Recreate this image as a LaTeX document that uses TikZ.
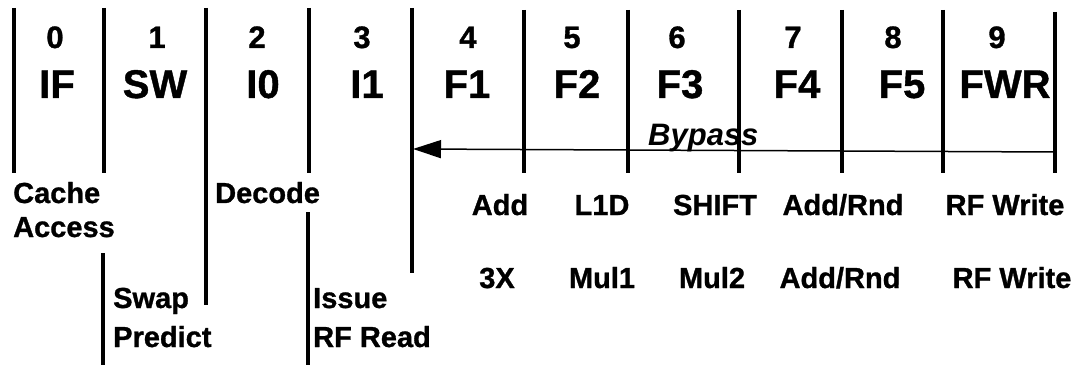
\documentclass[tikz,border=0pt]{standalone}
\usepackage{fontspec}
\setmainfont{Liberation Sans}
\newfontfamily\heavyfont[FakeBold=1]{Liberation Sans Bold}
\usetikzlibrary{arrows.meta}
\begin{document}
\begin{tikzpicture}[x=1pt,y=-1pt,
  divider/.style={line width=3.2pt},
  stagenum/.style={font=\heavyfont\fontsize{31}{33}\selectfont,anchor=base,inner sep=0pt},
  stagename/.style={font=\heavyfont\fontsize{40}{42}\selectfont,anchor=base,inner sep=0pt},
  note/.style={font=\heavyfont\fontsize{29}{31}\selectfont,anchor=base west,inner sep=0pt},
  opname/.style={font=\heavyfont\fontsize{29}{31}\selectfont,anchor=base,inner sep=0pt},
  bypasslabel/.style={font=\bfseries\itshape\fontsize{31}{33}\selectfont,anchor=base west,inner sep=0pt},
  bypassline/.style={line width=1.5pt,-{Triangle[length=28pt,width=18pt]}}]
\useasboundingbox (0,0) rectangle (1081,366);

% stage dividers, top band
\draw[divider] (14,8) -- (14,173);
\draw[divider] (104,8) -- (104,173);
\draw[divider] (206,8) -- (206,305);
\draw[divider] (309,8) -- (309,173);
\draw[divider] (412,8) -- (412,273);
\draw[divider] (524,10) -- (524,173);
\draw[divider] (628,10) -- (628,173);
\draw[divider] (739,10) -- (739,173);
\draw[divider] (842,10) -- (842,173);
\draw[divider] (943,10) -- (943,173);
\draw[divider] (1055,12) -- (1055,173);

% lower dividers
\draw[divider] (103,253) -- (103,365);
\draw[divider] (308,212) -- (308,365);

% stage numbers
\node[stagenum] (n0) at (55,48) {0};
\node[stagenum] (n1) at (157,48) {1};
\node[stagenum] (n2) at (257,48) {2};
\node[stagenum] (n3) at (362,48) {3};
\node[stagenum] (n4) at (468,48) {4};
\node[stagenum] (n5) at (572,48) {5};
\node[stagenum] (n6) at (677,48) {6};
\node[stagenum] (n7) at (793,48) {7};
\node[stagenum] (n8) at (893,48) {8};
\node[stagenum] (n9) at (997,48) {9};

% stage names
\node[stagename] (s0) at (57,98) {IF};
\node[stagename] (s1) at (155,98) {SW};
\node[stagename] (s2) at (263,98) {I0};
\node[stagename] (s3) at (367,98) {I1};
\node[stagename] (s4) at (467,98) {F1};
\node[stagename] (s5) at (577,98) {F2};
\node[stagename] (s6) at (680,98) {F3};
\node[stagename] (s7) at (797,98) {F4};
\node[stagename] (s8) at (902,98) {F5};
\node[stagename] (s9) at (1005,98) {FWR};

% bypass path
\coordinate (bypassfrom) at (1055,152);
\coordinate (bypassto) at (413,149);
\draw[bypassline] (bypassfrom) -- (bypassto);
\node[bypasslabel] (bypass) at (648,146) {Bypass};

% front-end stage descriptions
\node[note] (cache) at (13,203) {Cache};
\node[note] (access) at (13,237) {Access};
\node[note] (decode) at (215,203) {Decode};
\node[note] (swap) at (113,308) {Swap};
\node[note] (predict) at (113,347) {Predict};
\node[note] (issue) at (313,308) {Issue};
\node[note] (rfread) at (313,347) {RF Read};

% floating-point add pipe
\node[opname] (add) at (500,215) {Add};
\node[opname] (lid) at (602,215) {L1D};
\node[opname] (shift) at (715,215) {SHIFT};
\node[opname] (addrnda) at (843,215) {Add/Rnd};
\node[opname] (rfwa) at (1005,215) {RF Write};

% floating-point multiply pipe
\node[opname] (threex) at (497,288) {3X};
\node[opname] (mulone) at (602,288) {Mul1};
\node[opname] (multwo) at (712,288) {Mul2};
\node[opname] (addrndb) at (840,288) {Add/Rnd};
\node[opname] (rfwb) at (1012,288) {RF Write};
\end{tikzpicture}
\end{document}
